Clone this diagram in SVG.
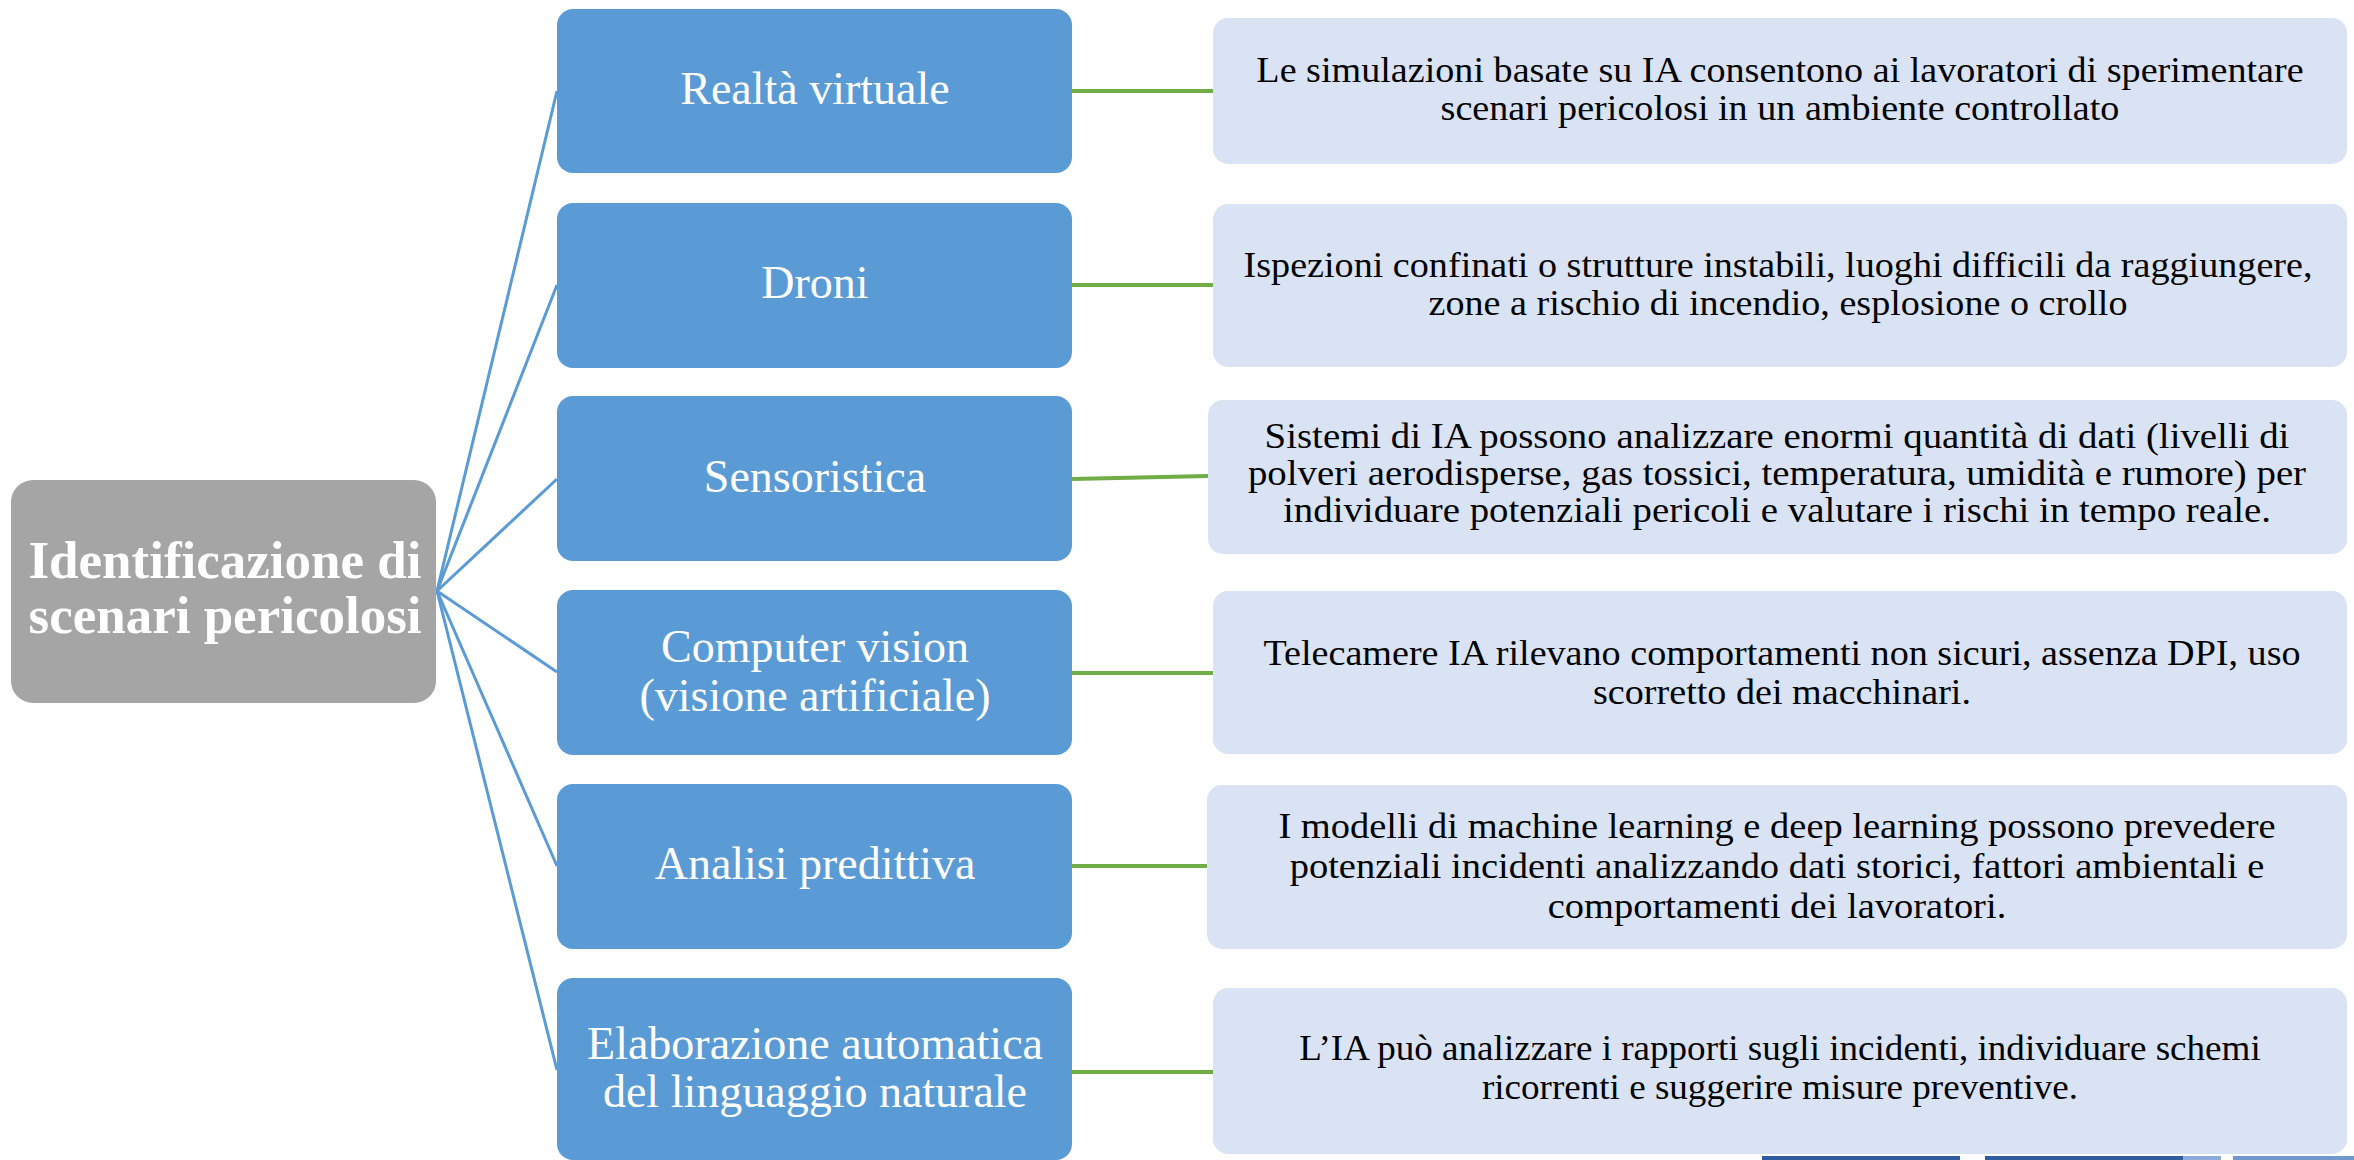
<svg xmlns="http://www.w3.org/2000/svg" width="2354" height="1160" viewBox="0 0 2354 1160">
  <style>
    .root { fill: #A5A5A5; }
    .cat { fill: #5B9BD5; }
    .desc { fill: #DAE3F3; }
    .t-root { font-family: "Liberation Serif", serif; font-weight: bold; font-size: 53px; fill: #FFFFFF; text-anchor: middle; }
    .t-cat { font-family: "Liberation Serif", serif; font-size: 46px; fill: #FFFFFF; text-anchor: middle; }
    .t-desc { font-family: "Liberation Serif", serif; font-size: 35px; fill: #000000; text-anchor: middle; }
    .fan { stroke: #5B9BD5; stroke-width: 3; fill: none; }
    .link { stroke: #70AD47; stroke-width: 4; fill: none; }
  </style>

  <rect width="2354" height="1160" fill="#FFFFFF"/>

  <!-- slide background strip at the bottom edge -->
  <g id="footer-strip">
    <rect x="1762" y="1156" width="198" height="4" fill="#2E5C9E"/>
    <rect x="1985" y="1156" width="198" height="4" fill="#2E5C9E"/>
    <rect x="2183" y="1156" width="38" height="4" fill="#8EAADB"/>
    <rect x="2233" y="1156" width="121" height="4" fill="#6F98CE"/>
  </g>

  <!-- connectors -->
  <g id="connectors">
    <line class="fan" x1="437" y1="591" x2="557" y2="91"/>
    <line class="fan" x1="437" y1="591" x2="557" y2="285"/>
    <line class="fan" x1="437" y1="591" x2="557" y2="479"/>
    <line class="fan" x1="437" y1="591" x2="557" y2="672"/>
    <line class="fan" x1="437" y1="591" x2="557" y2="866"/>
    <line class="fan" x1="437" y1="591" x2="557" y2="1070"/>
    <line class="link" x1="1072" y1="91" x2="1213" y2="91"/>
    <line class="link" x1="1072" y1="285" x2="1213" y2="285"/>
    <line class="link" x1="1072" y1="479" x2="1208" y2="476"/>
    <line class="link" x1="1072" y1="673" x2="1213" y2="673"/>
    <line class="link" x1="1072" y1="866" x2="1207" y2="866"/>
    <line class="link" x1="1072" y1="1072" x2="1213" y2="1072"/>
  </g>

  <!-- root -->
  <g id="root">
    <rect class="root" x="11" y="480" width="425" height="223" rx="22"/>
    <text class="t-root" x="225" y="578">Identificazione di</text>
    <text class="t-root" x="225" y="633">scenari pericolosi</text>
  </g>

  <!-- categories -->
  <g id="cat-realta">
    <rect class="cat" x="557" y="9" width="515" height="164" rx="16"/>
    <text class="t-cat" x="815" y="104">Realtà virtuale</text>
  </g>
  <g id="cat-droni">
    <rect class="cat" x="557" y="203" width="515" height="165" rx="16"/>
    <text class="t-cat" x="815" y="298">Droni</text>
  </g>
  <g id="cat-sensoristica">
    <rect class="cat" x="557" y="396" width="515" height="165" rx="16"/>
    <text class="t-cat" x="815" y="492">Sensoristica</text>
  </g>
  <g id="cat-vision">
    <rect class="cat" x="557" y="590" width="515" height="165" rx="16"/>
    <text class="t-cat" x="815" y="662">Computer vision</text>
    <text class="t-cat" x="815" y="711">(visione artificiale)</text>
  </g>
  <g id="cat-predittiva">
    <rect class="cat" x="557" y="784" width="515" height="165" rx="16"/>
    <text class="t-cat" x="815" y="879">Analisi predittiva</text>
  </g>
  <g id="cat-nlp">
    <rect class="cat" x="557" y="978" width="515" height="182" rx="16"/>
    <text class="t-cat" x="815" y="1059">Elaborazione automatica</text>
    <text class="t-cat" x="815" y="1107">del linguaggio naturale</text>
  </g>

  <!-- descriptions (text set slightly wide, centred on each box) -->
  <g id="desc-realta">
    <rect class="desc" x="1213" y="18" width="1134" height="146" rx="15"/>
    <g transform="translate(1780,0) scale(1.09,1)">
      <text class="t-desc" x="0" y="82">Le simulazioni basate su IA consentono ai lavoratori di sperimentare</text>
      <text class="t-desc" x="0" y="120">scenari pericolosi in un ambiente controllato</text>
    </g>
  </g>
  <g id="desc-droni">
    <rect class="desc" x="1213" y="204" width="1134" height="163" rx="15"/>
    <g transform="translate(1778,0) scale(1.09,1)">
      <text class="t-desc" x="0" y="277">Ispezioni confinati o strutture instabili, luoghi difficili da raggiungere,</text>
      <text class="t-desc" x="0" y="315">zone a rischio di incendio, esplosione o crollo</text>
    </g>
  </g>
  <g id="desc-sensoristica">
    <rect class="desc" x="1208" y="400" width="1139" height="154" rx="15"/>
    <g transform="translate(1777,0) scale(1.11,1)">
      <text class="t-desc" x="0" y="448">Sistemi di IA possono analizzare enormi quantità di dati (livelli di</text>
      <text class="t-desc" x="0" y="485">polveri aerodisperse, gas tossici, temperatura, umidità e rumore) per</text>
      <text class="t-desc" x="0" y="522">individuare potenziali pericoli e valutare i rischi in tempo reale.</text>
    </g>
  </g>
  <g id="desc-vision">
    <rect class="desc" x="1213" y="591" width="1134" height="163" rx="15"/>
    <g transform="translate(1782,0) scale(1.09,1)">
      <text class="t-desc" x="0" y="665">Telecamere IA rilevano comportamenti non sicuri, assenza DPI, uso</text>
      <text class="t-desc" x="0" y="704">scorretto dei macchinari.</text>
    </g>
  </g>
  <g id="desc-predittiva">
    <rect class="desc" x="1207" y="785" width="1140" height="164" rx="15"/>
    <g transform="translate(1777,0) scale(1.10,1)">
      <text class="t-desc" x="0" y="838">I modelli di machine learning e deep learning possono prevedere</text>
      <text class="t-desc" x="0" y="878">potenziali incidenti analizzando dati storici, fattori ambientali e</text>
      <text class="t-desc" x="0" y="918">comportamenti dei lavoratori.</text>
    </g>
  </g>
  <g id="desc-nlp">
    <rect class="desc" x="1213" y="988" width="1134" height="166" rx="15"/>
    <g transform="translate(1780,0) scale(1.06,1)">
      <text class="t-desc" x="0" y="1060">L’IA può analizzare i rapporti sugli incidenti, individuare schemi</text>
      <text class="t-desc" x="0" y="1099">ricorrenti e suggerire misure preventive.</text>
    </g>
  </g>
</svg>
